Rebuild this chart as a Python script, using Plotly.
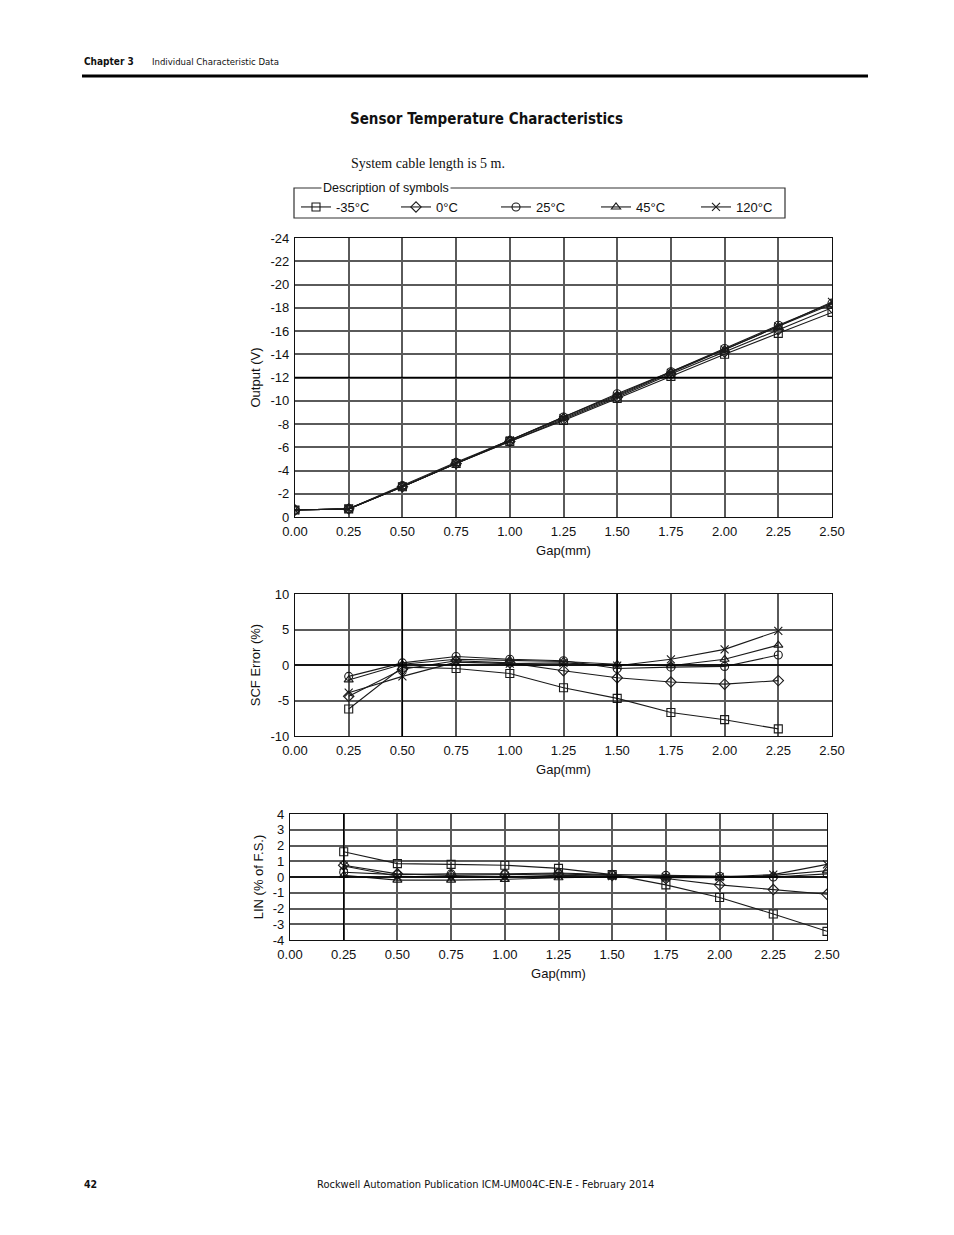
import plotly.graph_objects as go

W, H = 954, 1235

# ---------------- data ----------------
series_names = ["-35°C", "0°C", "25°C", "45°C", "120°C"]
symbols = ["square-open", "diamond-open", "circle-open", "triangle-up-open", "x-thin-open"]

gap_out = [0.00, 0.25, 0.50, 0.75, 1.00, 1.25, 1.50, 1.75, 2.00, 2.25, 2.50]
out_m35 = [-0.6, -0.7, -2.6, -4.6, -6.5, -8.3, -10.2, -12.1, -14.0, -15.8, -17.6]
out_0 = [-0.6, -0.7, -2.6, -4.6, -6.5, -8.4, -10.3, -12.3, -14.2, -16.1, -18.0]
out_25 = [-0.6, -0.7, -2.7, -4.7, -6.6, -8.6, -10.6, -12.5, -14.5, -16.5, -18.4]
out_45 = [-0.6, -0.7, -2.6, -4.6, -6.6, -8.6, -10.5, -12.5, -14.4, -16.4, -18.3]
out_120 = [-0.6, -0.7, -2.6, -4.6, -6.6, -8.5, -10.4, -12.4, -14.4, -16.4, -18.5]

gap_scf = [0.25, 0.50, 0.75, 1.00, 1.25, 1.50, 1.75, 2.00, 2.25]
scf_m35 = [-6.2, -0.3, -0.5, -1.2, -3.2, -4.7, -6.7, -7.7, -9.0]
scf_0 = [-4.4, -0.6, 0.6, 0.3, -0.8, -1.8, -2.4, -2.7, -2.2]
scf_25 = [-1.6, 0.3, 1.2, 0.8, 0.6, -0.5, -0.3, -0.2, 1.4]
scf_45 = [-2.1, 0.1, 0.8, 0.7, 0.5, 0.1, -0.1, 0.8, 2.8]
scf_120 = [-3.9, -1.6, 0.4, 0.2, 0.3, -0.1, 0.8, 2.2, 4.8]

gap_lin = [0.25, 0.50, 0.75, 1.00, 1.25, 1.50, 1.75, 2.00, 2.25, 2.50]
lin_m35 = [1.6, 0.85, 0.8, 0.75, 0.55, 0.15, -0.5, -1.3, -2.35, -3.45]
lin_0 = [0.75, 0.2, 0.1, 0.15, 0.2, 0.1, -0.1, -0.5, -0.8, -1.1]
lin_25 = [0.3, 0.15, 0.2, 0.2, 0.25, 0.15, 0.1, 0.05, 0.0, 0.2]
lin_45 = [0.1, -0.2, -0.2, -0.15, -0.05, 0.0, -0.05, -0.05, 0.1, 0.4]
lin_120 = [0.7, 0.05, 0.0, 0.0, 0.1, 0.05, 0.0, 0.0, 0.15, 0.8]

x_ticks = [0.00, 0.25, 0.50, 0.75, 1.00, 1.25, 1.50, 1.75, 2.00, 2.25, 2.50]
x_tick_labels = ["0.00", "0.25", "0.50", "0.75", "1.00", "1.25", "1.50", "1.75", "2.00", "2.25", "2.50"]

out_ticks = [0, -2, -4, -6, -8, -10, -12, -14, -16, -18, -20, -22, -24]
out_tick_labels = ["0", "-2", "-4", "-6", "-8", "-10", "-12", "-14", "-16", "-18", "-20", "-22", "-24"]
scf_ticks = [-10, -5, 0, 5, 10]
scf_tick_labels = ["-10", "-5", "0", "5", "10"]
lin_ticks = [-4, -3, -2, -1, 0, 1, 2, 3, 4]
lin_tick_labels = ["-4", "-3", "-2", "-1", "0", "1", "2", "3", "4"]

out_data = [out_m35, out_0, out_25, out_45, out_120]
scf_data = [scf_m35, scf_0, scf_25, scf_45, scf_120]
lin_data = [lin_m35, lin_0, lin_25, lin_45, lin_120]

# ---------------- figure ----------------
fig = go.Figure()
OFF = 8  # page body margin

def px_x(p):
    return (p - OFF) / W

def px_y(p):
    return 1 - (p - OFF) / H

line_col = "#1a1a1a"
def add_series(xs, data, xa, ya, legend):
    for i, name in enumerate(series_names):
        fig.add_trace(go.Scatter(x=xs, y=data[i], name=name, mode="lines+markers",
                                 line=dict(color=line_col, width=1.1),
                                 marker=dict(symbol=symbols[i], size=8, color=line_col,
                                             line=dict(width=1.1, color=line_col)),
                                 xaxis=xa, yaxis=ya, showlegend=legend))

add_series(gap_out, out_data, "x", "y", True)
add_series(gap_scf, scf_data, "x2", "y2", False)
add_series(gap_lin, lin_data, "x3", "y3", False)

sans = "Liberation Sans, Arial, sans-serif"
tick_font = dict(family=sans, size=13, color="#111")
title_font = dict(family=sans, size=13, color="#111")
grid_col = "#5a5a5a"

def xaxis(dom, anchor):
    return dict(domain=dom, anchor=anchor, range=[0, 2.5], tickvals=x_ticks, ticktext=x_tick_labels,
                showgrid=True, gridcolor=grid_col, gridwidth=1.5, zeroline=False,
                showline=True, linecolor="#111", linewidth=1.2, mirror=True, ticklabelstandoff=2,
                ticks="", tickfont=tick_font, title=dict(text="Gap(mm)", font=title_font, standoff=8))

def yaxis(dom, anchor, rng, tv, tt, title):
    return dict(domain=dom, anchor=anchor, range=rng, tickvals=tv, ticktext=tt,
                showgrid=True, gridcolor=grid_col, gridwidth=1.5, zeroline=False,
                showline=True, linecolor="#111", linewidth=1.2, mirror=True, ticklabelstandoff=2,
                ticks="", tickfont=tick_font, title=dict(text=title, font=title_font, standoff=6))

fig.update_layout(
    width=W, height=H, margin=dict(l=0, r=0, t=0, b=0, autoexpand=False),
    paper_bgcolor="white", plot_bgcolor="white",
    xaxis=xaxis([px_x(295), px_x(832)], "y"),
    yaxis=yaxis([px_y(517), px_y(238)], "x", [0, -24], out_ticks, out_tick_labels, "Output (V)"),
    xaxis2=xaxis([px_x(295), px_x(832)], "y2"),
    yaxis2=yaxis([px_y(736), px_y(594)], "x2", [-10, 10], scf_ticks, scf_tick_labels, "SCF Error (%)"),
    xaxis3=xaxis([px_x(290), px_x(827)], "y3"),
    yaxis3=yaxis([px_y(940), px_y(814)], "x3", [-4, 4], lin_ticks, lin_tick_labels, "LIN (% of F.S.)"),
    legend=dict(orientation="h", x=px_x(296), y=px_y(207), xanchor="left", yanchor="middle",
                entrywidth=55, entrywidthmode="pixels", itemwidth=30,
                font=dict(family=sans, size=13, color="#111"),
                bgcolor="rgba(0,0,0,0)", tracegroupgap=0),
    showlegend=True,
)

shapes = []
shapes.append(dict(type="line", xref="paper", yref="paper", x0=px_x(82), x1=px_x(868), y0=px_y(76), y1=px_y(76),
                   line=dict(color="black", width=3)))
shapes.append(dict(type="rect", xref="paper", yref="paper", x0=px_x(294), x1=px_x(785), y0=px_y(218), y1=px_y(188),
                   line=dict(color="#333", width=1.2), fillcolor="rgba(0,0,0,0)"))
dark = dict(color="black", width=1.3)
shapes.append(dict(type="line", xref="x2", yref="y2", x0=0, x1=2.5, y0=0, y1=0, line=dark))
shapes.append(dict(type="line", xref="x3", yref="y3", x0=0, x1=2.5, y0=0, y1=0, line=dark))
shapes.append(dict(type="line", xref="x", yref="y", x0=0, x1=2.5, y0=-12, y1=-12, line=dark))
shapes.append(dict(type="line", xref="x3", yref="y3", x0=0.25, x1=0.25, y0=-4, y1=4, line=dark))
shapes.append(dict(type="line", xref="x2", yref="y2", x0=0.5, x1=0.5, y0=-10, y1=10, line=dark))
shapes.append(dict(type="line", xref="x2", yref="y2", x0=1.5, x1=1.5, y0=-10, y1=10, line=dark))
fig.update_layout(shapes=shapes)

cond = "Liberation Sans Narrow, DejaVu Sans Condensed, Roboto Condensed, Roboto, sans-serif"
ann = [
    dict(text="<b>Chapter 3</b>", x=px_x(82), y=px_y(61), font=dict(family=cond, size=10, color="#111")),
    dict(text="Individual Characteristic Data", x=px_x(150), y=px_y(61), font=dict(family=cond, size=9.5, color="#111")),
    dict(text="<b>Sensor Temperature Characteristics</b>", x=px_x(348), y=px_y(119), font=dict(family=cond, size=15, color="#111")),
    dict(text="System cable length is 5 m.", x=px_x(349), y=px_y(164), font=dict(family="Liberation Serif, serif", size=14, color="#111")),
    dict(text="<b>42</b>", x=px_x(82), y=px_y(1184), font=dict(family=cond, size=10.5, color="#111")),
    dict(text="Rockwell Automation Publication ICM-UM004C-EN-E - February 2014", x=px_x(315), y=px_y(1184),
         font=dict(family=cond, size=11, color="#111")),
    dict(text="Description of symbols", x=px_x(321), y=px_y(188), bgcolor="white", borderpad=1,
         font=dict(family=sans, size=12.5, color="#111")),
]
for a in ann:
    a.update(xref="paper", yref="paper", xanchor="left", yanchor="middle", showarrow=False)
fig.update_layout(annotations=ann)

fig.write_html("out.html")
